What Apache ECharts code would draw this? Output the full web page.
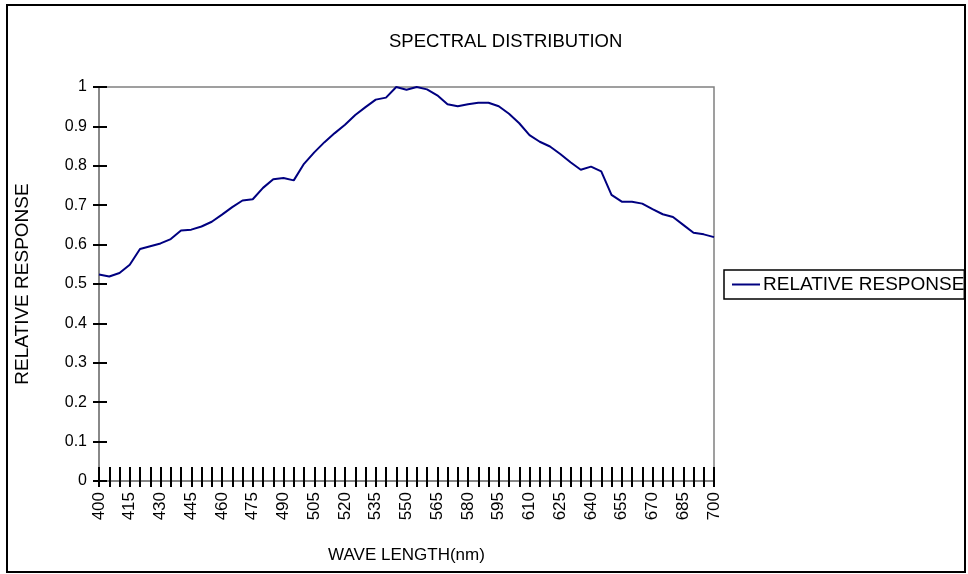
<!DOCTYPE html>
<html>
<head>
<meta charset="utf-8">
<script src="https://cdn.jsdelivr.net/npm/echarts@6/dist/echarts.min.js"></script>
<style>
  html, body { margin: 0; padding: 0; background: #fff; }
  #chart { width: 968px; height: 574px; }
</style>
</head>
<body>
<div id="chart"></div>
<script>
// wavelength categories (nm)
var wavelengths = [
  '400','405','410','415','420','425','430','435','440','445',
  '450','455','460','465','470','475','480','485','490','495',
  '500','505','510','515','520','525','530','535','540','545',
  '550','555','560','565','570','575','580','585','590','595',
  '600','605','610','615','620','625','630','635','640','645',
  '650','655','660','665','670','675','680','685','690','695',
  '700'
];

// relative response
var relativeResponse = [
  0.524, 0.519, 0.528, 0.549, 0.589, 0.596, 0.603, 0.614, 0.636, 0.638,
  0.646, 0.658, 0.676, 0.695, 0.712, 0.715, 0.744, 0.766, 0.769, 0.763,
  0.805, 0.834, 0.860, 0.883, 0.904, 0.929, 0.949, 0.968, 0.973, 1.000,
  0.993, 1.000, 0.994, 0.979, 0.956, 0.951, 0.956, 0.960, 0.960, 0.951,
  0.932, 0.908, 0.878, 0.861, 0.849, 0.830, 0.809, 0.790, 0.798, 0.786,
  0.726, 0.709, 0.709, 0.704, 0.690, 0.677, 0.670, 0.650, 0.630, 0.626,
  0.619
];

var yMin = 0, yMax = 1, yStep = 0.1;

var font = 'Liberation Sans, Arial, sans-serif';
var chart = echarts.init(document.getElementById('chart'));

var option = {
  animation: false,
  backgroundColor: '#fff',
  textStyle: { fontFamily: font },
  title: {
    text: 'SPECTRAL DISTRIBUTION',
    left: 384,
    top: 27,
    textStyle: { fontSize: 18.5, fontWeight: 'normal', color: '#000', fontFamily: font }
  },
  legend: {
    left: 724,
    top: 270,
    width: 239,
    padding: [5, 0, 5, 8],
    borderColor: '#000',
    borderWidth: 1.5,
    icon: 'rect',
    itemWidth: 28,
    itemHeight: 2,
    itemGap: 0,
    textStyle: { fontSize: 19, color: '#000', fontFamily: font, padding: [0, 0, 0, -2] },
    data: ['RELATIVE RESPONSE']
  },
  grid: {
    left: 99,
    right: 254,
    top: 87,
    bottom: 93,
    show: true,
    borderColor: '#808080',
    borderWidth: 1.5,
    backgroundColor: 'transparent'
  },
  xAxis: [{
    type: 'category',
    data: wavelengths,
    boundaryGap: false,
    name: 'WAVE LENGTH(nm)',
    nameLocation: 'middle',
    nameGap: 66,
    nameTextStyle: { fontSize: 17, color: '#000', fontFamily: font },
    axisLine: { lineStyle: { color: '#808080', width: 1.5 } },
    axisTick: { inside: true, length: 14, interval: 0, lineStyle: { color: '#000', width: 2 } },
    axisLabel: { interval: 2, rotate: 90, fontSize: 17, color: '#000', margin: 11, fontFamily: font },
    splitLine: { show: false }
  }, {
    type: 'category',
    data: wavelengths,
    boundaryGap: false,
    position: 'bottom',
    axisLine: { show: false },
    axisTick: { inside: false, length: 6, interval: 0, lineStyle: { color: '#000', width: 2 } },
    axisLabel: { show: false },
    splitLine: { show: false }
  }],
  yAxis: [{
    type: 'value',
    min: yMin,
    max: yMax,
    interval: yStep,
    name: 'RELATIVE RESPONSE',
    nameLocation: 'middle',
    nameGap: 67,
    nameTextStyle: { fontSize: 19, color: '#000', fontFamily: font },
    axisLine: { show: true, lineStyle: { color: '#808080', width: 1.5 } },
    axisTick: { show: true, inside: true, length: 8, lineStyle: { color: '#000', width: 2 } },
    axisLabel: { fontSize: 16, color: '#000', margin: 12, fontFamily: font },
    splitLine: { show: false }
  }, {
    type: 'value',
    min: yMin,
    max: yMax,
    interval: yStep,
    position: 'left',
    axisLine: { show: false },
    axisTick: { show: true, inside: false, length: 6, lineStyle: { color: '#000', width: 2 } },
    axisLabel: { show: false },
    splitLine: { show: false }
  }],
  series: [{
    name: 'RELATIVE RESPONSE',
    type: 'line',
    data: relativeResponse,
    symbol: 'none',
    lineStyle: { color: '#000080', width: 2 },
    itemStyle: { color: '#000080' }
  }],
  graphic: [{
    type: 'rect',
    shape: { x: 7, y: 5, width: 958, height: 567 },
    style: { fill: 'none', stroke: '#000', lineWidth: 2 },
    silent: true,
    z: 100
  }]
};

chart.setOption(option);
</script>
</body>
</html>
